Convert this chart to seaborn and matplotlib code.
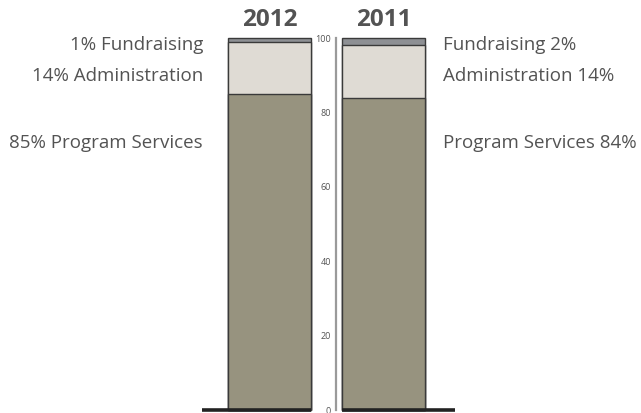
import matplotlib
matplotlib.use("Agg")
import matplotlib.pyplot as plt
import seaborn as sns
import numpy as np

sns.set_style("white")
plt.rcParams['font.family'] = ['Open Sans', 'DejaVu Sans']

years = ["2012", "2011"]
program = [85, 84]
admin = [14, 14]
fundraising = [1, 2]
yticks = [0, 20, 40, 60, 80, 100]
left_labels = ["1% Fundraising", "14% Administration", "85% Program Services"]
right_labels = ["Fundraising 2%", "Administration 14%", "Program Services 84%"]
label_y = [98.1, 89.8, 71.8]

c_prog = "#97937F"
c_admin = "#DFDBD4"
c_fund = "#8E9094"
edge = "#3a3a3a"
text_c = "#535353"

W, H = 641, 413
fig = plt.figure(figsize=(W / 100, H / 100), dpi=100)
ax = fig.add_axes([0, 0, 1, 1])

prog = np.array(program, dtype=float)
adm = prog + np.array(admin)
tot = adm + np.array(fundraising)

bw = 83 / 114
for vals, col in [(tot, c_fund), (adm, c_admin), (prog, c_prog)]:
    sns.barplot(x=years, y=vals, color=col, saturation=1, width=bw,
                edgecolor=edge, linewidth=1.0, ax=ax, order=years)

# pixel -> data mapping
px_per_x = 114.0
x0_px = 269.5
ax.set_xlim(-x0_px / px_per_x, (W - x0_px) / px_per_x)
py = 3.72
ax.set_ylim(-3 / py, 100 + 38 / py)

# axis
axis_x = (336 - x0_px) / px_per_x
for s in ["top", "right", "bottom"]:
    ax.spines[s].set_visible(False)
ax.spines["left"].set_position(("data", axis_x))
ax.spines["left"].set_bounds(0, 100)
ax.spines["left"].set_color("#9a9a9a")
ax.spines["left"].set_linewidth(1.6)
ax.set_yticks(yticks)
ax.set_yticklabels([str(t) for t in yticks])
ax.tick_params(axis="y", length=2, width=0.6, color="#9a9a9a", labelsize=6.5,
               labelcolor=text_c, pad=1.5, direction="out")
ax.set_xticks([])
ax.set_xlabel("")
ax.set_ylabel("")

# baselines
ax.hlines(0, (202 - x0_px) / px_per_x, 0 + bw / 2, color="#222222", lw=2.6, zorder=5)
ax.hlines(0, 1 - bw / 2, 1 + (455 - 383.5) / px_per_x, color="#222222", lw=2.6, zorder=5)

# titles
for i, y in enumerate(years):
    ax.text(i, 104.8, y, ha="center", va="center", fontsize=17.5, fontweight="bold", color=text_c)

lx = (203 - x0_px) / px_per_x
rx = (443 - x0_px) / px_per_x
for lab, yv in zip(left_labels, label_y):
    ax.text(lx, yv, lab, ha="right", va="center", fontsize=13.5, color=text_c)
for lab, yv in zip(right_labels, label_y):
    ax.text(rx, yv, lab, ha="left", va="center", fontsize=13.5, color=text_c)

fig.savefig("out.png", dpi=100)
